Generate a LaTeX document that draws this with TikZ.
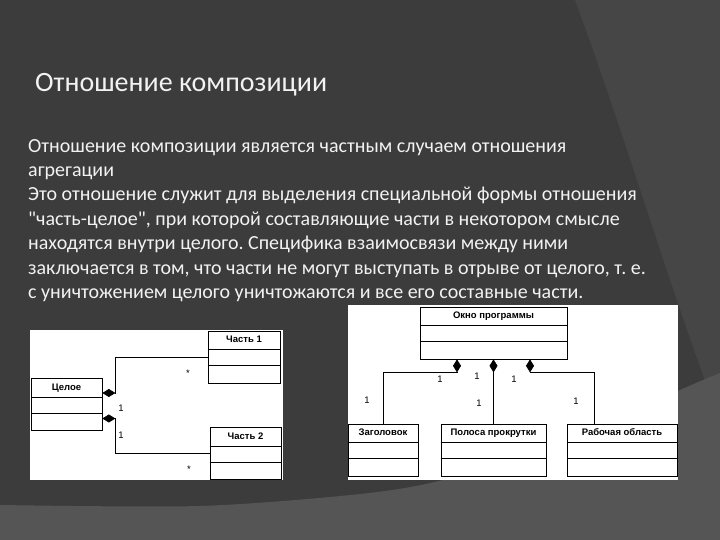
\documentclass[tikz,border=0pt]{standalone}
\usepackage{fontspec}
\setmainfont{Carlito}[Ligatures=TeXOff]
\newfontfamily\umlfont{Liberation Sans}
\usetikzlibrary{arrows.meta,calc,positioning}
\definecolor{SlideDark}{HTML}{3C3C3C}
\definecolor{SlideMid}{HTML}{464646}
\definecolor{SlideLight}{HTML}{555555}
\definecolor{SlideText}{HTML}{F2F2F2}
\frenchspacing

\begin{document}
\begin{tikzpicture}[
      x=1pt,y=1pt,
      cls/.style={draw=black,line width=0.7pt,fill=white,minimum height=52pt,inner sep=0pt},
      clsname/.style={anchor=north,minimum height=19pt,inner sep=0pt,text height=7pt,text depth=2pt,font=\umlfont\bfseries\fontsize{9.5}{11}\selectfont},
      mult/.style={font=\umlfont\fontsize{9.5}{10}\selectfont,inner sep=0pt},
      comp/.style={{Diamond[length=13pt,width=8pt]}-,line width=0.7pt,color=black}
    ]
      % slide background
      \fill[SlideDark] (0,0) rectangle (720,540);
      \fill[SlideMid] (575,540) .. controls (620,420) and (680,220) .. (720,120) -- (720,540) -- cycle;
      \fill[SlideLight] plot[smooth] coordinates {(0,35) (200,34) (360,46) (443,60) (560,95) (680,150) (720,167)}
        -- (720,0) -- (0,0) -- cycle;
      \useasboundingbox (0,0) rectangle (720,540);

      \node[anchor=base west,inner sep=0pt,text=SlideText,font=\fontsize{28}{32}\selectfont] (title) at (35,448) {Отношение композиции};
      \node[anchor=north west,inner sep=0pt,align=left,text=SlideText,font=\fontsize{20}{24.4}\selectfont] (body) at (28,401) {%
        Отношение композиции является частным случаем отношения\\
        агрегации\\
        Это отношение служит для выделения специальной формы отношения\\
        "часть-целое", при которой составляющие части в некотором смысле\\
        находятся внутри целого. Специфика взаимосвязи между ними\\
        заключается в том, что части не могут выступать в отрыве от целого, т. е.\\
        с уничтожением целого уничтожаются и все его составные части.};

      % left diagram
      \fill[white] (30,60) rectangle (283,210);
      \node[cls,minimum width=71pt] (whole) at (66.5,135.5) {};
      \node[cls,minimum width=72pt] (part1) at (244,183) {};
      \node[cls,minimum width=71pt] (part2) at (245.5,86.5) {};
      \node[clsname] (whole-name) at (whole.north) {Целое};
      \node[clsname] (part1-name) at (part1.north) {Часть 1};
      \node[clsname] (part2-name) at (part2.north) {Часть 2};
      \draw[comp] ([yshift=11.5pt]whole.east) -- ++(13,0) |- (part1.west);
      \draw[comp] ([yshift=-14pt]whole.east) -- ++(13,0) |- (part2.west);
      \node[mult] (m1) at (121,132) {1};
      \node[mult] (m2) at (121,105) {1};
      \node[mult] (m3) at (188,167) {*};
      \node[mult] (m4) at (189,71) {*};

      % right diagram
      \fill[white] (348,60) rectangle (678,235);
      \node[cls,minimum width=147pt] (window) at (493.5,207) {};
      \node[cls,minimum width=70pt] (header) at (383,90) {};
      \node[cls,minimum width=105pt] (scroll) at (493.5,90) {};
      \node[cls,minimum width=110pt] (work) at (622,90) {};
      \node[clsname] (window-name) at (window.north) {Окно программы};
      \node[clsname] (header-name) at (header.north) {Заголовок};
      \node[clsname] (scroll-name) at (scroll.north) {Полоса прокрутки};
      \node[clsname] (work-name) at (work.north) {Рабочая область};
      \draw[comp] ([xshift=-36.5pt]window.south) -- ++(0,-13) -| (header.north);
      \draw[comp] (window.south) -- (scroll.north);
      \draw[comp] ([xshift=36.5pt]window.south) -- ++(0,-13) -| ([xshift=-28pt]work.north);
      \node[mult] (m5) at (367,140) {1};
      \node[mult] (m6) at (440,161) {1};
      \node[mult] (m7) at (477,164) {1};
      \node[mult] (m8) at (479,137) {1};
      \node[mult] (m9) at (514,161) {1};
      \node[mult] (m10) at (576,139) {1};

      % compartments
      \foreach \c in {whole,part1,part2,window,header,scroll,work} {
        \draw[line width=0.7pt] ([yshift=-19pt]\c.north west) -- ([yshift=-19pt]\c.north east);
        \draw[line width=0.7pt] ([yshift=-35pt]\c.north west) -- ([yshift=-35pt]\c.north east);
      }
    \end{tikzpicture}
\end{document}
